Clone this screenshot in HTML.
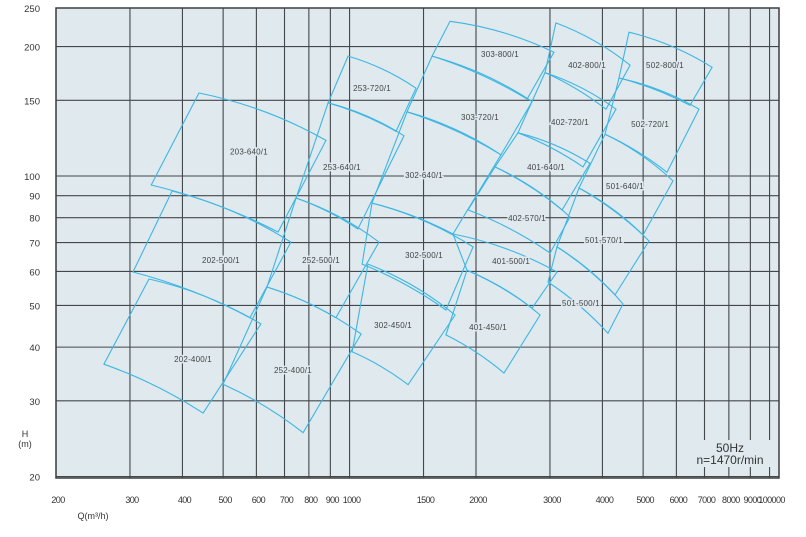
<!DOCTYPE html>
<html><head><meta charset="utf-8"><style>
html,body{margin:0;padding:0;background:#fff}
svg{display:block;font-family:"Liberation Sans",sans-serif}
</style></head><body>
<svg id="chart" width="806" height="537" viewBox="0 0 806 537">
<rect x="56" y="8" width="723" height="470" fill="#dfe9ee"/>
<g id="grid"></g>
<g id="shapes"></g>
<g id="labels"></g>
<g id="axes"></g>
</svg>
<script>
const xTickValues=[200,300,400,500,600,700,800,900,1000,1500,2000,3000,4000,5000,6000,7000,8000,9000,10000];
const xTickLabels=["200","300","400","500","600","700","800","900","1000","1500","2000","3000","4000","5000","6000","7000","8000","9000","100000"];
const yTickValues=[250,200,150,100,90,80,70,60,50,40,30,20];
const yTickLabels=["250","200","150","100","90","80","70","60","50","40","30","20"];
const pumpNames=["203-640/1","202-500/1","202-400/1","252-500/1","252-400/1","253-640/1","253-720/1","302-640/1","302-500/1","302-450/1","303-800/1","303-720/1","401-640/1","402-570/1","401-500/1","401-450/1","402-800/1","402-720/1","502-800/1","502-720/1","501-640/1","501-570/1","501-500/1"];
const pumpCorners=[
[[438,156],[879,121],[676,74.1],[337,95.3]],
[[378,92.3],[725,70.2],[579,46.8],[305,59.8]],
[[333,57.6],[615,45.3],[448,28.1],[260,36.5]],
[[746,88.9],[1175,70.2],[928,46.8],[636,55.2]],
[[636,55.2],[1065,42.9],[775,25.3],[500,32.8]],
[[889,148],[1348,124],[1047,75.3],[746,88.9]],
[[992,190],[1439,160],[1290,127],[889,148]],
[[1370,141],[2294,112],[1763,73.3],[1131,86.5]],
[[1131,86.5],[1968,68.4],[1696,48.8],[1071,62.4]],
[[1106,62.4],[1783,47.5],[1378,32.7],[1014,39.0]],
[[1734,229],[3068,194],[2646,151],[1572,190]],
[[1572,190],[2720,149],[2294,112],[1370,141]],
[[2518,126],[3736,107],[3206,83.4],[2220,105]],
[[2220,105],[3348,80.3],[3002,66.2],[1914,83.4]],
[[1763,73.3],[3118,59.8],[2720,49.3],[1904,60.4]],
[[1904,60.4],[2842,47.5],[2332,34.8],[1696,42.7]],
[[3100,227],[4654,181],[4078,143],[2920,174]],
[[2920,174],[4308,143],[3596,105],[2518,126]],
[[4628,216],[7296,179],[6464,146],[4380,169]],
[[4380,169],[6792,143],[5700,102],[4056,125]],
[[4056,125],[5888,97.4],[4996,72.9],[3518,93.8]],
[[3518,93.8],[5164,70.6],[4286,52.9],[3118,68.4]],
[[3118,68.4],[4478,50.4],[4124,43.1],[2968,56.7]]
];
const labelQ=[576,494,424,855,733,959,1131,1504,1504,1269,2281,2044,2936,2646,2424,2136,3676,3348,5636,5194,4526,4034,3556];
const labelH=[114,63.8,37.5,63.8,35.4,105,160,100.5,65.5,45.0,192,137,105,79.8,63.4,44.5,181,133.5,181,132,94.8,71.0,50.7];

const NS="http://www.w3.org/2000/svg";
const X0=56,X1=779,Y0=8,Y1=478;
function xs(q){return X0+420*Math.log10(q/200);}
function ys(h){return 176-430*Math.log10(h/100);}
function mk(tag,attrs,parent){const e=document.createElementNS(NS,tag);for(const k in attrs)e.setAttribute(k,attrs[k]);parent.appendChild(e);return e;}
const grid=document.getElementById('grid'),shapes=document.getElementById('shapes'),labels=document.getElementById('labels'),axes=document.getElementById('axes');

xTickValues.forEach((v,i)=>{
  const x=Math.min(xs(v),X1);
  const l=mk('line',{x1:x,y1:Y0,x2:x,y2:Y1,stroke:'#43484b','stroke-width':1.1},grid);
  
  
  const t=mk('text',{x:x+2,y:503,'text-anchor':'middle','font-size':9,fill:'#333','letter-spacing':'-0.6'},axes);
  t.textContent=xTickLabels[i];
  
  
});
yTickValues.forEach((v,i)=>{
  const y=Math.max(Math.min(ys(v),Y1),Y0);
  const l=mk('line',{x1:X0,y1:y,x2:X1,y2:y,stroke:'#43484b','stroke-width':1.1},grid);
  
  
  const t=mk('text',{x:40,y:y+4,'text-anchor':'end','font-size':9.5,fill:'#333'},axes);
  t.textContent=yTickLabels[i];
  
  
});
const fr=mk('rect',{x:X0,y:Y0,width:X1-X0,height:Y1-Y0,fill:'none',stroke:'#3a3f42','stroke-width':1.5},grid);



function curve(a,b,bulge){
  const mx=(a[0]+b[0])/2,my=(a[1]+b[1])/2;
  const dx=b[0]-a[0],dy=b[1]-a[1],len=Math.hypot(dx,dy);
  let nx=dy/len,ny=-dx/len; if(ny>0){nx=-nx;ny=-ny;}
  return ' Q'+(mx+nx*len*bulge).toFixed(1)+' '+(my+ny*len*bulge).toFixed(1)+' '+b[0].toFixed(1)+' '+b[1].toFixed(1);
}
pumpCorners.forEach((c,i)=>{
  const p=c.map(d=>[xs(d[0]),ys(d[1])]);
  const d='M'+p[0][0].toFixed(1)+' '+p[0][1].toFixed(1)+curve(p[0],p[1],0.08)+' L'+p[2][0].toFixed(1)+' '+p[2][1].toFixed(1)+curve(p[2],p[3],0.06)+' Z';
  const path=mk('path',{d:d,fill:'none',stroke:'#3db6e3','stroke-width':1.1},shapes);
  
  
});
pumpNames.forEach((n,i)=>{
  const t=mk('text',{x:xs(labelQ[i]),y:ys(labelH[i])+3,'text-anchor':'middle','font-size':8,fill:'#444',stroke:'#dfe9ee','stroke-width':3,'paint-order':'stroke','letter-spacing':'0.2'},labels);
  t.textContent=n;
  
  
});
const box=mk('rect',{x:690,y:440,width:82,height:27,fill:'#dfe9ee'},labels);


const t1=mk('text',{x:730,y:452,'text-anchor':'middle','font-size':12,fill:'#333'},labels);t1.textContent='50Hz';


const t2=mk('text',{x:730,y:464,'text-anchor':'middle','font-size':12,fill:'#333'},labels);t2.textContent='n=1470r/min';


const h1=mk('text',{x:25,y:437,'text-anchor':'middle','font-size':9,fill:'#333'},axes);h1.textContent='H';


const h2=mk('text',{x:25,y:447,'text-anchor':'middle','font-size':9,fill:'#333'},axes);h2.textContent='(m)';


const q=mk('text',{x:93,y:519,'text-anchor':'middle','font-size':9,fill:'#333'},axes);q.textContent='Q(m³/h)';


</script>
</body></html>
